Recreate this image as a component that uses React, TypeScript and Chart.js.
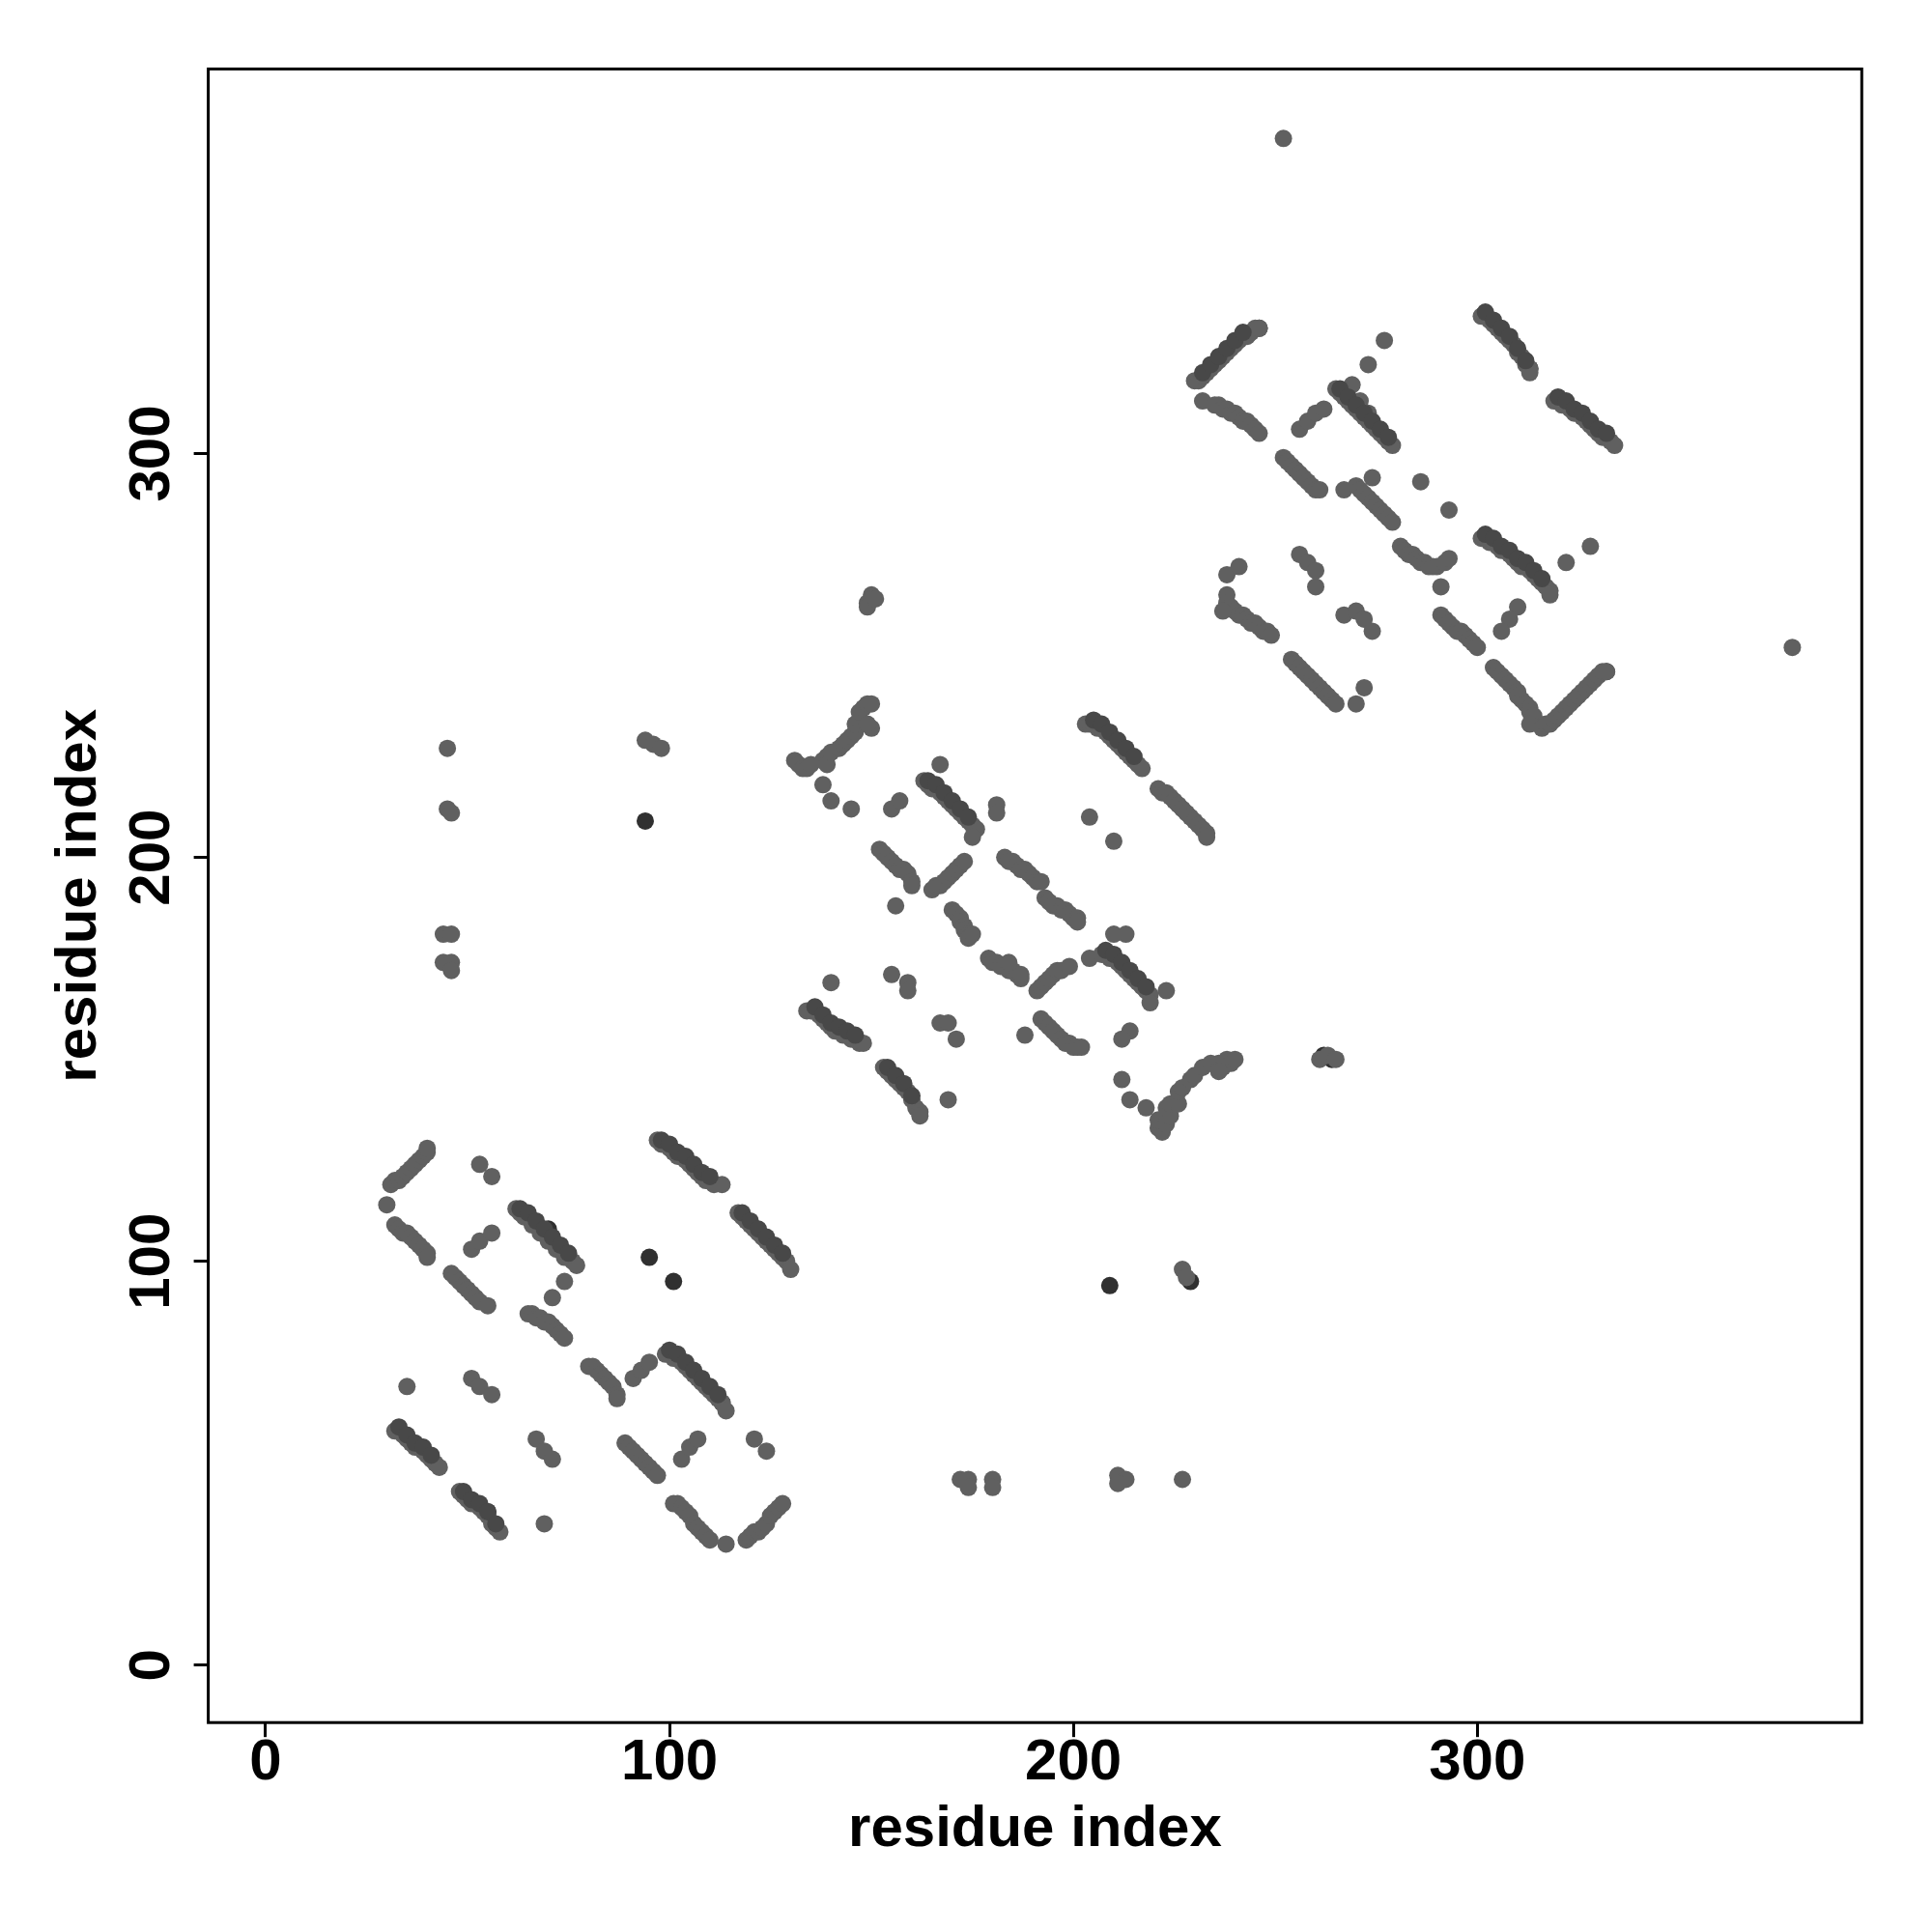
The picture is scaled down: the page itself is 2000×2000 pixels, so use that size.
import React, { useEffect, useRef } from "react";
import { Chart, registerables } from "chart.js";

Chart.register(...registerables);

type P = [number, number];

const axisTicks = [0, 100, 200, 300];
const axisMin = -14.2;
const axisMax = 395.2;
const xTitle = "residue index";
const yTitle = "residue index";

const lowerBlock: P[] = [
  [30,114],[31,119],[32,120],[33,120],[34,121],[35,122],[36,123],[37,124],[38,125],[39,126],[40,127],[40,128],
  [32,109],[33,108],[34,107],[35,107],[36,106],[37,105],[38,104],[39,103],[40,102],[40,101],
  [53,124],[56,121],[51,103],[53,105],[56,107],
  [46,97],[47,96],[48,95],[49,94],[50,93],[51,92],[52,91],[53,90],[55,89],
  [62,113],[63,112],[64,112],[65,111],[66,110],[67,109],[68,108],[69,107],[70,106],[71,105],[72,104],[73,103],[74,102],[75,101],[76,100],[77,99],
  [64,111],[66,109],[68,107],[70,105],[72,103],[74,101],
  [74,95],[71,91],
  [65,87],[66,87],[67,86],[68,86],[69,85],[70,85],[71,84],[72,83],[73,82],[74,81],
  [97,130],[98,129],[99,129],[100,128],[101,127],[102,126],[103,126],[104,125],[105,124],[106,123],[107,122],[108,121],[109,120],[110,120],[111,119],[113,119],
  [117,112],[118,111],[119,110],[120,109],[121,108],[122,107],[123,106],[124,105],[125,104],[126,103],[127,102],[128,101],[129,100],[130,98],
  [35,69],[51,71],[53,69],[56,67],
  [32,58],[33,58],[34,57],[35,56],[36,55],[37,54],[38,54],[39,53],[40,52],[41,51],[42,50],[43,49],
  [48,43],[49,42],[50,41],[51,40],[52,40],[53,39],[54,38],[55,37],[56,35],[57,34],[58,33],
  [67,56],[69,53],[71,51],[69,35],
  [80,74],[81,74],[82,73],[83,72],[84,71],[85,70],[86,69],[87,67],[87,66],
  [91,71],[93,73],[95,75],
  [99,77],[100,77],[101,76],[102,76],[103,75],[104,74],[105,73],[106,72],[107,71],[108,70],[109,69],[110,68],[111,67],[112,66],[113,65],[114,63],
  [121,56],[124,53],
  [89,55],[90,54],[91,53],[92,52],[93,51],[94,50],[95,49],[96,48],[97,47],
  [103,51],[105,54],[107,56],
  [101,40],[102,40],[103,39],[104,38],[105,37],[106,35],[107,34],[108,33],[109,32],[110,31],
  [114,30],
  [119,31],[120,32],[121,33],[122,33],[123,34],[124,35],[125,37],[126,38],[127,39],[128,40],
];

const middleBlock: P[] = [
  [150,265],[150,264],[149,263],[149,262],[151,264],
  [131,224],[132,223],[133,222],[134,222],[135,223],[138,224],[139,225],[139,223],[140,226],[142,227],[143,228],[144,229],[145,230],[146,231],[146,233],[147,234],[147,236],[148,237],[149,238],[150,238],[150,232],[149,233],
  [138,218],[140,214],[145,212],[155,212],[157,214],
  [167,223],[163,219],[164,218],[165,217],[166,217],[167,216],[168,215],[169,214],[170,213],[171,212],[172,211],[173,210],[174,209],[175,208],[176,207],[175,205],
  [181,213],[181,211],
  [152,202],[153,201],[154,200],[155,199],[156,198],[157,197],[158,197],[159,196],[160,194],[160,193],
  [156,188],
  [165,192],[166,193],[167,193],[168,194],[169,195],[170,196],[171,197],[172,198],[173,199],
  [170,187],[171,186],[172,185],[172,184],[173,183],[173,182],[174,181],[174,180],[175,181],
  [179,175],[180,174],[181,174],[182,173],[183,173],[184,172],[185,172],[186,171],[187,170],[184,174],[187,171],
  [140,169],[155,171],[159,169],[159,167],
  [134,162],[135,162],[136,162],[137,161],[138,160],[139,159],[140,158],[141,157],[142,157],[143,156],[144,156],[145,155],[146,155],[147,154],[148,154],
  [167,159],[169,159],[171,155],
  [153,148],[154,147],[155,146],[156,145],[157,144],[158,143],[159,142],[160,140],[161,138],[162,137],[162,136],
  [169,140],
  [203,233],[204,233],[205,233],[206,232],[207,232],[208,231],[209,230],[210,229],[211,228],[212,227],[213,226],[214,225],[215,224],[216,223],[217,222],
  [221,217],[222,216],[223,216],[224,215],[225,214],[226,213],[227,212],[228,211],[229,210],[230,209],[231,208],[232,207],[233,206],[233,205],
  [204,210],[210,204],
  [183,200],[184,199],[185,199],[186,198],[187,197],[188,197],[189,196],[190,195],[191,194],[192,194],
  [193,190],[194,189],[195,188],[196,188],[197,187],[198,187],[199,186],[200,185],[201,185],[201,184],
  [210,181],[213,181],[204,175],
  [207,176],[208,176],[209,175],[210,175],[211,174],[212,173],[213,172],[214,171],[215,170],[216,169],[217,168],[218,167],[219,166],[219,164],
  [223,167],
  [191,167],[192,168],[193,169],[194,170],[195,171],[196,172],[197,172],[199,173],
  [192,160],[193,159],[194,158],[195,157],[196,156],[197,155],[198,154],[199,154],[200,153],[201,153],[202,153],
  [188,156],[214,157],[212,155],
  [212,145],[214,140],[218,138],
  [221,133],[222,132],[221,135],[223,134],[224,136],[223,138],[224,139],[226,139],[226,142],[227,143],[229,145],[230,146],[232,148],[234,149],[236,149],[237,148],[238,150],[239,149],[240,150],[236,147],
];

const upperBlock: P[] = [
  [230,318],[231,318],[232,319],[233,320],[234,321],[235,322],[236,323],[237,324],[238,325],[239,326],[240,327],[241,328],[242,329],[243,329],[244,330],[245,331],[246,331],[232,313],
  [235,312],[236,312],[237,311],[238,311],[239,310],[240,310],[241,309],[242,308],[243,308],[244,307],[245,306],[246,305],
  [256,306],[258,308],[260,310],[262,311],
  [252,299],[253,298],[254,297],[255,296],[256,295],[257,294],[258,293],[259,292],[260,291],[261,291],
  [267,291],
  [265,316],[266,315],[267,314],[268,313],[269,312],[270,311],[271,310],[272,309],[273,308],[274,307],[275,306],[276,305],[277,304],[278,303],[279,302],[269,317],[271,313],[273,310],
  [277,328],[273,322],
  [270,292],[271,291],[272,290],[273,289],[274,288],[275,287],[276,286],[277,285],[278,284],[279,283],[274,294],
  [301,334],[302,334],[303,333],[304,332],[305,331],[306,330],[307,329],[308,328],[309,327],[310,325],[311,324],[312,322],[313,321],[313,320],
  [319,313],[320,313],[321,312],[322,312],[323,311],[324,310],[325,310],[326,309],[327,308],[328,307],[329,306],[330,305],[331,304],[332,304],[333,303],[334,302],
  [286,293],[293,286],
  [238,270],[241,272],
  [238,265],[238,263],[239,262],[240,261],[241,260],[242,260],[243,259],[244,258],[245,258],[246,257],[247,256],[248,256],[249,255],[237,261],
  [256,275],[258,273],[260,271],[260,267],
  [254,249],[255,248],[256,247],[257,246],[258,245],[259,244],[260,243],[261,242],[262,241],[263,240],[264,239],[265,238],
  [267,260],[270,261],[272,259],[274,256],
  [270,238],[272,242],
  [281,277],[282,276],[283,275],[284,275],[285,274],[286,273],[287,273],[288,272],[289,272],[290,272],[292,273],[293,274],
  [291,267],
  [301,279],[302,279],[303,278],[304,278],[305,277],[306,276],[307,276],[308,275],[309,274],[310,273],[311,272],[312,272],[313,271],[314,270],[315,269],[316,268],[317,267],[318,266],[318,265],
  [328,277],[322,273],
  [291,260],[292,259],[293,258],[294,257],[295,256],[296,256],[297,255],[298,254],[299,253],[300,252],
  [310,262],[308,259],[306,256],
  [304,247],[305,246],[306,245],[307,244],[308,243],[309,242],[310,241],[310,240],[311,239],[312,238],[313,237],[313,236],[314,235],[313,233],
  [316,232],[317,233],[318,233],[319,234],[320,235],[321,236],[322,237],[323,238],[324,239],[325,240],[326,241],[327,242],[328,243],[329,244],[330,245],[331,246],[332,246],
];

const scattered: P[] = [
  [45,227],[45,212],[46,211],[44,181],[46,181],[44,174],[46,174],[46,172],
  [94,229],[96,228],[98,227],
  [172,46],[174,46],[174,44],[180,46],[180,44],[211,47],[213,46],[211,45],[227,46],
  [227,98],[228,96],
  [252,378],[378,252],
  [261,150],[263,151],[265,150],
];

// second row of contacts that makes the thick bands look two points wide
const bandRows: P[] = [
  [63,113],[65,112],[67,110],[69,108],[71,106],[73,104],[75,102],
  [98,130],[100,129],[102,127],[104,126],[106,124],[108,122],[110,121],
  [118,112],[120,110],[122,108],[124,106],[126,104],[128,102],
  [100,78],[102,77],[104,75],[106,73],[108,71],[110,69],[112,67],
  [33,59],[35,57],[37,55],[39,54],[41,52],
  [49,43],[51,41],[53,40],[55,38],[57,35],
  [164,219],[166,218],[168,216],[170,214],[172,212],[174,210],
  [136,163],[138,161],[140,159],[142,158],[144,157],[146,156],
  [154,148],[156,146],[158,144],[160,141],
  [205,234],[207,233],[209,231],[211,229],[213,227],[215,225],
  [208,177],[210,176],[212,174],[214,172],[216,170],[218,168],
  [266,316],[268,314],[270,312],[272,310],[274,308],[276,306],[278,304],
  [302,335],[304,333],[306,331],[308,329],[310,326],[312,323],
  [320,314],[322,313],[324,311],[326,310],[328,308],[330,306],[332,305],
  [302,280],[304,279],[306,277],[308,276],[310,274],[312,273],[314,271],[316,269],
  [232,320],[234,322],[236,324],[238,326],[240,328],[242,330],
];

const darkPoints: P[] = [
  [94,209],[95,101],[101,95],[209,94],[229,95],[262,151],[264,150],
  [70,108],[107,122],[113,65],[38,54],[55,38],[246,331],[278,303],[313,321],[332,246],
];

const FONT = '"Liberation Sans", Arial, Helvetica, sans-serif';

export default function App() {
  const ref = useRef<HTMLCanvasElement | null>(null);

  useEffect(() => {
    document.body.style.margin = "0";
    const canvas = ref.current;
    if (!canvas) return;

    const LEFT = 215.6;
    const RIGHT = 1927.3;
    const TOP = 71.4;
    const BOTTOM = 1783.2;

    const toXY = (arr: P[]) => arr.map(([x, y]) => ({ x, y }));
    const normal = [...lowerBlock, ...middleBlock, ...upperBlock, ...scattered];

    const framePlugin = {
      id: "frameAndText",
      afterDraw(chart: any) {
        const { ctx, chartArea, scales } = chart;
        ctx.save();
        ctx.strokeStyle = "#000";
        ctx.lineWidth = 3;
        ctx.strokeRect(chartArea.left, chartArea.top, chartArea.right - chartArea.left, chartArea.bottom - chartArea.top);
        ctx.fillStyle = "#000";
        ctx.font = `bold 60px ${FONT}`;
        ctx.textAlign = "center";
        ctx.textBaseline = "alphabetic";
        for (const v of axisTicks) {
          const px = scales.x.getPixelForValue(v);
          ctx.fillText(String(v), px, 1842);
        }
        for (const v of axisTicks) {
          const py = scales.y.getPixelForValue(v);
          ctx.save();
          ctx.translate(175, py);
          ctx.rotate(-Math.PI / 2);
          ctx.fillText(String(v), 0, 0);
          ctx.restore();
        }
        ctx.fillText(xTitle, (chartArea.left + chartArea.right) / 2, 1911);
        ctx.save();
        ctx.translate(99, (chartArea.top + chartArea.bottom) / 2);
        ctx.rotate(-Math.PI / 2);
        ctx.fillText(yTitle, 0, 0);
        ctx.restore();
        ctx.restore();
      },
    };

    const tickSetter = (scale: any) => {
      scale.ticks = axisTicks.map((v) => ({ value: v }));
    };

    const ds = (arr: P[], color: string) => ({
      data: toXY(arr),
      backgroundColor: color,
      borderWidth: 0,
      pointRadius: 9,
      pointHoverRadius: 9,
    });

    const chart = new Chart(canvas, {
      type: "scatter",
      data: {
        datasets: [
          ds(bandRows, "rgb(72,72,72)"),
          ds(normal, "rgb(96,96,96)"),
          ds(darkPoints, "rgb(48,48,48)"),
        ],
      },
      options: {
        animation: false,
        responsive: false,
        devicePixelRatio: 1,
        events: [],
        layout: { padding: { left: 0, top: TOP, right: 2000 - RIGHT, bottom: 0 } },
        plugins: { legend: { display: false }, tooltip: { enabled: false } },
        scales: {
          x: {
            type: "linear",
            min: axisMin,
            max: axisMax,
            afterBuildTicks: tickSetter,
            afterFit: (s: any) => { s.height = 2000 - BOTTOM; },
            ticks: { display: false },
            border: { display: false },
            grid: { display: true, drawOnChartArea: false, drawTicks: true, tickLength: 15, color: "#000", lineWidth: 3 },
          },
          y: {
            type: "linear",
            min: axisMin,
            max: axisMax,
            afterBuildTicks: tickSetter,
            afterFit: (s: any) => { s.width = LEFT; },
            ticks: { display: false },
            border: { display: false },
            grid: { display: true, drawOnChartArea: false, drawTicks: true, tickLength: 15, color: "#000", lineWidth: 3 },
          },
        },
      },
      plugins: [framePlugin],
    } as any);

    return () => chart.destroy();
  }, []);

  return (
    <div style={{ width: 2000, height: 2000, background: "#fff" }}>
      <canvas ref={ref} width={2000} height={2000} style={{ display: "block", width: 2000, height: 2000 }} />
    </div>
  );
}
